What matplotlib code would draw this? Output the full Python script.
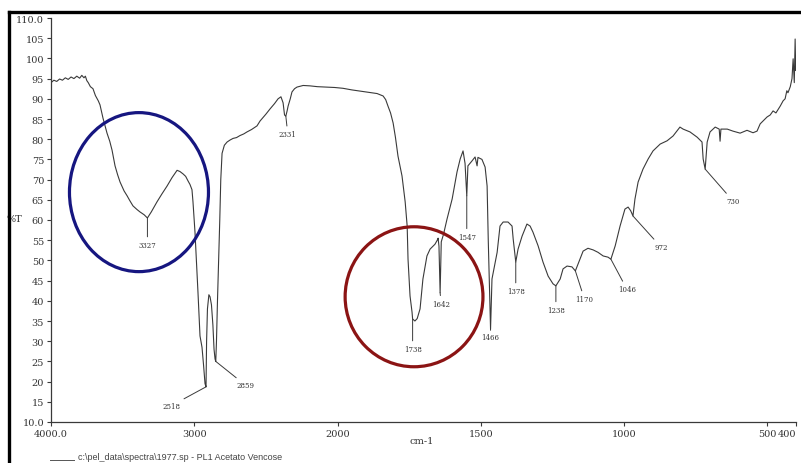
import numpy as np
import matplotlib.pyplot as plt
from matplotlib.patches import Ellipse
from matplotlib.lines import Line2D

# spectrum (wavenumber cm-1, %T)
wavenumber = [4000, 3980, 3960, 3940, 3920, 3900, 3880, 3860, 3840, 3820, 3800, 3785, 3770, 3760,
              3750, 3740, 3725, 3707, 3690, 3670, 3658, 3645, 3637, 3620, 3609, 3590, 3574, 3553,
              3535, 3518, 3490, 3469, 3450, 3428, 3400, 3379, 3350, 3327, 3300, 3260, 3225, 3190,
              3155, 3120, 3100, 3078, 3060, 3044, 3030, 3016, 3009, 2995, 2985, 2974, 2960, 2946,
              2935, 2925, 2918, 2914, 2908, 2898, 2890, 2880, 2870, 2862, 2855, 2850, 2845, 2838,
              2830, 2822, 2815, 2806, 2790, 2771, 2750, 2729, 2705, 2681, 2655, 2632, 2600, 2562,
              2541, 2500, 2471, 2440, 2415, 2395, 2380, 2370, 2361, 2352, 2345, 2330, 2318, 2300,
              2283, 2240, 2192, 2140, 2073, 2020, 1981, 1950, 1921, 1890, 1862, 1841, 1832, 1824,
              1815, 1806, 1798, 1789, 1775, 1764, 1757, 1754, 1747, 1740, 1738, 1730, 1722, 1712,
              1702, 1688, 1677, 1660, 1652, 1649, 1646, 1642, 1638, 1630, 1618, 1600, 1583, 1572,
              1562, 1555, 1549, 1545, 1531, 1520, 1513, 1510, 1496, 1485, 1478, 1474, 1466, 1461,
              1443, 1433, 1422, 1405, 1391, 1387, 1378, 1370, 1356, 1339, 1328, 1318, 1300, 1283,
              1265, 1248, 1238, 1223, 1213, 1199, 1182, 1170, 1154, 1143, 1126, 1108, 1091, 1073,
              1056, 1046, 1031, 1014, 997, 986, 977, 969, 962, 951, 934, 916, 899, 874, 850, 829,
              805, 794, 770, 745, 728, 724, 717, 710, 700, 682, 668, 665, 662, 640, 620, 595, 571,
              550, 536, 525, 515, 501, 490, 480, 470, 455, 445, 438, 432, 428, 420, 414, 410, 406,
              403, 401, 400]
transmittance = [94.0, 94.6, 94.3, 94.9, 94.6, 95.2, 94.8, 95.4, 95.0, 95.6, 95.1, 95.8, 95.2, 95.6,
                 94.5, 94.0, 93.0, 92.5, 90.8, 89.5, 88.5, 86.5, 85.2, 83.0, 81.5, 79.5, 77.3, 73.4,
                 71.2, 69.4, 67.2, 66.0, 64.8, 63.5, 62.6, 62.0, 61.3, 60.5, 62.0, 64.5, 66.5, 68.4,
                 70.5, 72.3, 72.0, 71.4, 70.8, 69.7, 68.8, 67.5, 64.5, 57.0, 50.0, 42.0, 31.3, 28.5,
                 24.0, 19.5, 18.7, 30.0, 38.0, 41.5, 41.0, 39.0, 34.0, 28.0, 25.6, 25.0, 30.0, 40.0,
                 50.0, 60.0, 70.0, 76.5, 78.5, 79.3, 79.8, 80.2, 80.4, 80.9, 81.3, 81.8, 82.4, 83.3,
                 84.5, 86.2, 87.5, 88.8, 90.0, 90.5, 89.0, 86.0, 85.7, 87.0, 88.2, 90.0, 91.7, 92.5,
                 92.9, 93.3, 93.2, 93.0, 92.9, 92.8, 92.6, 92.2, 91.9, 91.6, 91.3, 90.7, 89.8, 88.2,
                 86.5, 84.0, 80.5, 75.8, 70.9, 64.5, 58.5, 50.3, 41.2, 37.2, 35.5, 35.0, 35.6, 38.0,
                 45.4, 51.1, 52.8, 54.0, 55.0, 55.5, 53.5, 42.0, 54.6, 56.5, 60.2, 65.2, 71.9, 75.1,
                 77.1, 74.0, 66.0, 73.4, 74.6, 75.6, 73.4, 75.5, 75.0, 73.1, 68.4, 55.0, 33.0, 45.4,
                 52.0, 58.5, 59.5, 59.5, 58.5, 55.3, 49.6, 52.8, 56.0, 59.0, 58.5, 57.0, 53.6, 49.6,
                 46.1, 44.2, 43.7, 45.4, 47.9, 48.6, 48.4, 47.4, 50.3, 52.3, 53.0, 52.6, 52.0, 51.1,
                 50.8, 50.3, 53.6, 58.5, 62.7, 63.2, 62.3, 61.0, 65.2, 69.4, 72.6, 75.1, 77.1, 78.8,
                 79.6, 80.8, 83.0, 82.5, 81.8, 80.5, 79.3, 75.1, 72.6, 79.3, 81.8, 83.0, 82.5, 79.5,
                 82.5, 82.5, 82.0, 81.5, 82.2, 81.6, 82.0, 83.8, 84.5, 85.5, 86.0, 87.0, 86.5, 88.2,
                 89.5, 90.0, 92.0, 91.5, 93.0, 95.0, 99.9, 94.0, 104.8, 97.0, 98.0]

# peak labels: text, wavenumber, %T at the point, label offset (pixels)
peak_text = ["3327", "2518", "2859", "2331", "1738", "1642", "1547", "1466", "1378",
             "1238", "1170", "1046", "972", "730"]
peak_wn = [3327, 2918, 2850, 2361, 1738, 1642, 1549, 1466, 1378, 1238, 1170, 1046, 969, 717]
peak_t = [60.5, 18.7, 25.0, 85.7, 35.5, 42.0, 66.0, 33.0, 49.6, 43.7, 47.4, 50.3, 61.0, 72.6]
peak_dx = [0, -35, 30, 2, 0, 1, 0, 0, 0, 0, 9, 16, 28, 28]
peak_dy = [-27, -19, -24, -18, -30, -11, -41, -8, -29, -24, -28, -30, -31, -32]

xticks = [4000, 3000, 2000, 1500, 1000, 500, 400]
xtick_labels = ["4000.0", "3000", "2000", "1500", "1000", "500", "400"]
yticks = list(range(10, 115, 5))
ytick_labels = ["10.0"] + [str(v) for v in yticks[1:-1]] + ["110.0"]


# instrument scale: 4000-2000 compressed by 2
def fwd(x):
    x = np.asarray(x, dtype=float)
    return np.where(x >= 2000, x / 2 + 1000, x)


def inv(t):
    t = np.asarray(t, dtype=float)
    return np.where(t >= 2000, 2 * (t - 1000), t)


W, H = 801, 464
fig = plt.figure(figsize=(W / 100, H / 100), dpi=100)
fig.patch.set_facecolor('white')
ax = fig.add_axes([51 / W, 1 - 423 / H, (796 - 51) / W, (423 - 19) / H])

ink = '#3a3a3a'
label_col = '#333333'
ax.plot(wavenumber, transmittance, color=ink, lw=0.8)

ax.set_xscale('function', functions=(fwd, inv))
ax.set_xlim(4000, 400)
ax.set_ylim(10, 110)

for s in ['top', 'right']:
    ax.spines[s].set_visible(False)
for s in ['left', 'bottom']:
    ax.spines[s].set_color(ink)
    ax.spines[s].set_linewidth(0.9)

tick_font = dict(family='DejaVu Serif', size=7)
ax.set_xticks(xticks)
ax.set_xticklabels(xtick_labels, **tick_font, color=label_col)
ax.get_xticklabels()[-1].set_ha('right')
ax.xaxis.set_minor_locator(plt.NullLocator())
ax.set_yticks(yticks)
ax.set_yticklabels(ytick_labels, **tick_font, color=label_col)
ax.tick_params(axis='both', direction='out', length=3, width=0.8, color=ink, pad=2)

for txt, w, t, dx, dy in zip(peak_text, peak_wn, peak_t, peak_dx, peak_dy):
    ax.annotate(txt, xy=(w, t), xytext=(dx, dy), textcoords='offset pixels',
                ha='center', va='center', fontsize=5, family='DejaVu Serif',
                color=label_col,
                arrowprops=dict(arrowstyle='-', color=ink, lw=0.7, shrinkA=1, shrinkB=0))

# highlight circles
inv_ax = ax.transAxes.inverted()
cb = inv_ax.transform(ax.transData.transform((3386, 66.9)))
cr = inv_ax.transform(ax.transData.transform((1733, 41.0)))
ax.add_patch(Ellipse(cb, 0.1866, 0.3936, transform=ax.transAxes, fill=False,
                     ec='#161680', lw=2.3, clip_on=False, zorder=5))
ax.add_patch(Ellipse(cr, 0.185, 0.3465, transform=ax.transAxes, fill=False,
                     ec='#8b1414', lw=2.3, clip_on=False, zorder=5))

fig.text(422 / W, 1 - 442 / H, 'cm-1', ha='center', va='center',
         fontsize=7, family='DejaVu Serif', color=label_col)
fig.text(22 / W, 1 - 219 / H, '%T', ha='right', va='center',
         fontsize=7, family='DejaVu Serif', color=label_col)

# footer
fig.add_artist(Line2D([50 / W, 74 / W], [1 - 461 / H] * 2, color='#555555', lw=0.7))
fig.text(78 / W, 1 - 458 / H, r'c:\pel_data\spectra\1977.sp - PL1 Acetato Vencose',
         ha='left', va='center', fontsize=6.5, family='Liberation Sans', color='#444444')

# scan border
fig.add_artist(Line2D([8.5 / W, 1.0], [1 - 12.5 / H] * 2, color='black', lw=2.4, zorder=10))
fig.add_artist(Line2D([8.5 / W] * 2, [0, 1 - 12.5 / H], color='black', lw=2.4, zorder=10))

fig.savefig('out.png', dpi=100, facecolor='white')
